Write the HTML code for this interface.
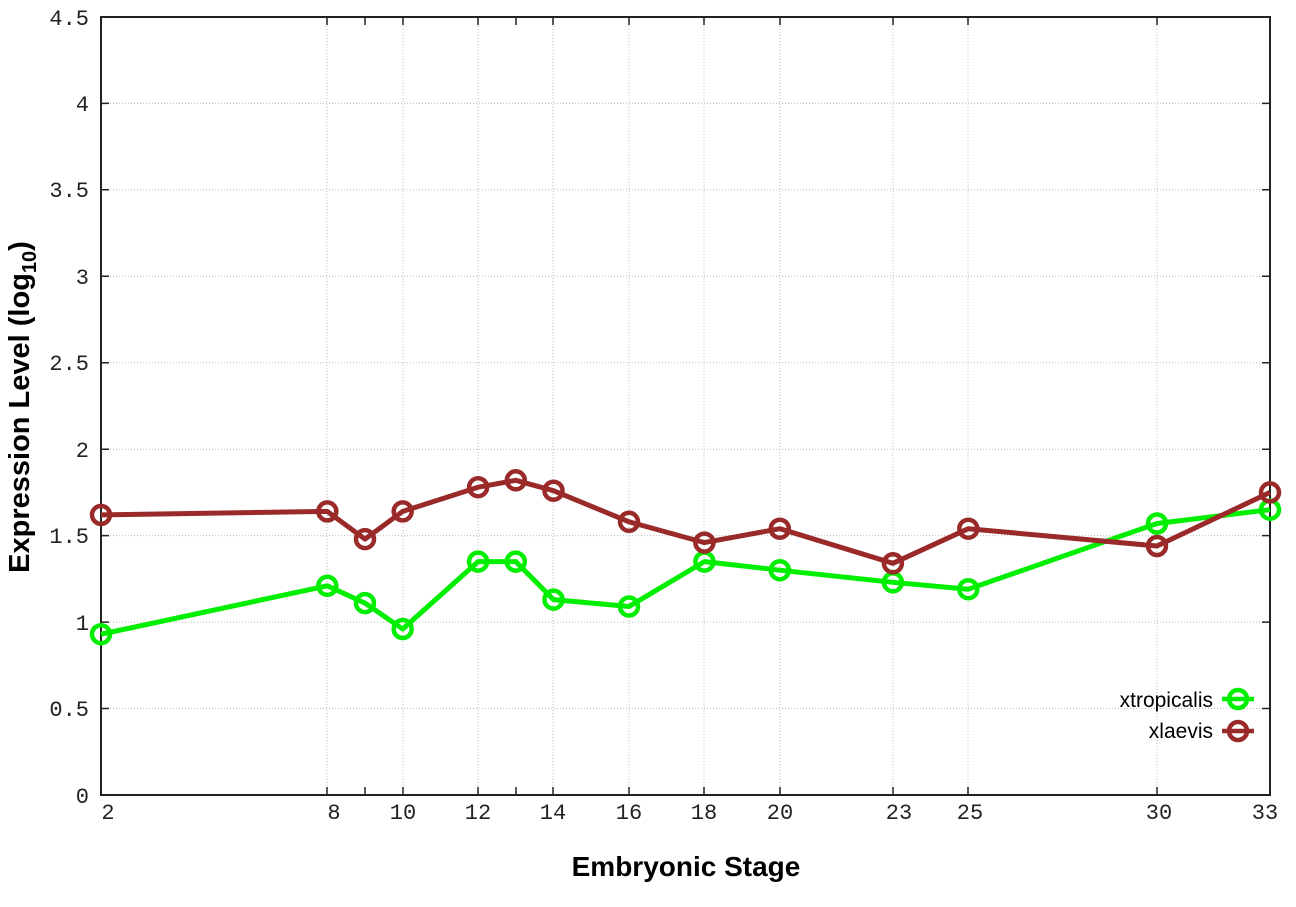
<!DOCTYPE html>
<html><head><style>body{margin:0;background:#fff}svg{display:block}</style></head><body>
<svg width="1296" height="907" xmlns="http://www.w3.org/2000/svg">
<g stroke="#bbb" stroke-width="1" stroke-dasharray="1,2">
<line x1="101" x2="1270" y1="708.5" y2="708.5"/><line x1="101" x2="1270" y1="622.1" y2="622.1"/>
<line x1="101" x2="1270" y1="535.6" y2="535.6"/><line x1="101" x2="1270" y1="449.2" y2="449.2"/>
<line x1="101" x2="1270" y1="362.7" y2="362.7"/><line x1="101" x2="1270" y1="276.3" y2="276.3"/>
<line x1="101" x2="1270" y1="189.8" y2="189.8"/><line x1="101" x2="1270" y1="103.4" y2="103.4"/>
<line x1="327" x2="327" y1="17" y2="795"/><line x1="403" x2="403" y1="17" y2="795"/>
<line x1="478" x2="478" y1="17" y2="795"/><line x1="553" x2="553" y1="17" y2="795"/>
<line x1="629" x2="629" y1="17" y2="795"/><line x1="704" x2="704" y1="17" y2="795"/>
<line x1="780" x2="780" y1="17" y2="795"/><line x1="893" x2="893" y1="17" y2="795"/>
<line x1="968" x2="968" y1="17" y2="795"/><line x1="1157" x2="1157" y1="17" y2="795"/>
</g>
<rect x="101" y="17" width="1169" height="778" fill="none" stroke="#222" stroke-width="2"/>
<g stroke="#222" stroke-width="1.5">
<path d="M101 708.5h8M101 622.1h8M101 535.6h8M101 449.2h8M101 362.7h8M101 276.3h8M101 189.8h8M101 103.4h8M1270 708.5h-8M1270 622.1h-8M1270 535.6h-8M1270 449.2h-8M1270 362.7h-8M1270 276.3h-8M1270 189.8h-8M1270 103.4h-8"/>
<path d="M327 795v-8M365 795v-8M403 795v-8M478 795v-8M516 795v-8M553 795v-8M629 795v-8M704 795v-8M780 795v-8M893 795v-8M968 795v-8M1157 795v-8M327 17v8M365 17v8M403 17v8M478 17v8M516 17v8M553 17v8M629 17v8M704 17v8M780 17v8M893 17v8M968 17v8M1157 17v8"/>
</g>
<g font-family="Liberation Mono, monospace" font-size="22" fill="#222" text-anchor="end">
<text x="89" y="803">0</text><text x="89" y="716">0.5</text><text x="89" y="630">1</text>
<text x="89" y="543">1.5</text><text x="89" y="457">2</text><text x="89" y="370">2.5</text>
<text x="89" y="284">3</text><text x="89" y="197">3.5</text><text x="89" y="111">4</text><text x="89" y="25">4.5</text>
</g>
<g font-family="Liberation Mono, monospace" font-size="22" fill="#222" text-anchor="middle">
<text x="108" y="819">2</text><text x="334" y="819">8</text><text x="403" y="819">10</text>
<text x="478" y="819">12</text><text x="553" y="819">14</text><text x="629" y="819">16</text>
<text x="704" y="819">18</text><text x="780" y="819">20</text><text x="899" y="819">23</text>
<text x="970" y="819">25</text><text x="1159" y="819">30</text><text x="1265" y="819">33</text>
</g>
<text x="686" y="876" font-family="Liberation Sans, sans-serif" font-weight="bold" font-size="28" text-anchor="middle" fill="#000">Embryonic Stage</text>
<text transform="translate(29 407) rotate(-90)" font-family="Liberation Sans, sans-serif" font-weight="bold" font-size="29" text-anchor="middle" fill="#000">Expression Level (log<tspan font-size="20" dy="7">10</tspan><tspan dy="-7">)</tspan></text>
<g fill="none" stroke-width="5" stroke-linejoin="round">
<polyline stroke="#00ee00" points="101,634.2 327.3,585.8 365,603.1 402.7,629 478.1,561.6 515.8,561.6 553.5,599.6 629,606.5 704.4,561.6 779.8,570.2 892.9,582.3 968.3,589.2 1157,523.5 1270,509.7"/>
<polyline stroke="#9a2a2a" points="101,514.9 327.3,511.4 365,539.1 402.7,511.4 478.1,487.2 515.8,480.3 553.5,490.7 629,521.8 704.4,542.6 779.8,528.7 892.9,563.3 968.3,528.7 1157,546 1270,492.4"/>
</g>
<g fill="none" stroke-width="4.5" stroke="#00ee00">
<circle cx="101" cy="634.2" r="9"/><circle cx="327.3" cy="585.8" r="9"/><circle cx="365" cy="603.1" r="9"/><circle cx="402.7" cy="629" r="9"/><circle cx="478.1" cy="561.6" r="9"/><circle cx="515.8" cy="561.6" r="9"/><circle cx="553.5" cy="599.6" r="9"/><circle cx="629" cy="606.5" r="9"/><circle cx="704.4" cy="561.6" r="9"/><circle cx="779.8" cy="570.2" r="9"/><circle cx="892.9" cy="582.3" r="9"/><circle cx="968.3" cy="589.2" r="9"/><circle cx="1157" cy="523.5" r="9"/><circle cx="1270" cy="509.7" r="9"/>
</g>
<g fill="none" stroke-width="4.5" stroke="#9a2a2a">
<circle cx="101" cy="514.9" r="9"/><circle cx="327.3" cy="511.4" r="9"/><circle cx="365" cy="539.1" r="9"/><circle cx="402.7" cy="511.4" r="9"/><circle cx="478.1" cy="487.2" r="9"/><circle cx="515.8" cy="480.3" r="9"/><circle cx="553.5" cy="490.7" r="9"/><circle cx="629" cy="521.8" r="9"/><circle cx="704.4" cy="542.6" r="9"/><circle cx="779.8" cy="528.7" r="9"/><circle cx="892.9" cy="563.3" r="9"/><circle cx="968.3" cy="528.7" r="9"/><circle cx="1157" cy="546" r="9"/><circle cx="1270" cy="492.4" r="9"/>
</g>
<g font-family="Liberation Sans, sans-serif" font-size="21" fill="#000" text-anchor="end">
<text x="1213" y="707">xtropicalis</text><text x="1213" y="738">xlaevis</text>
</g>
<g stroke-width="4.5" fill="none">
<path d="M1222 699h32" stroke="#00ee00"/><circle cx="1238" cy="699" r="9" stroke="#00ee00"/>
<path d="M1222 731h32" stroke="#9a2a2a"/><circle cx="1238" cy="731" r="9" stroke="#9a2a2a"/>
</g>
</svg>
</body></html>
